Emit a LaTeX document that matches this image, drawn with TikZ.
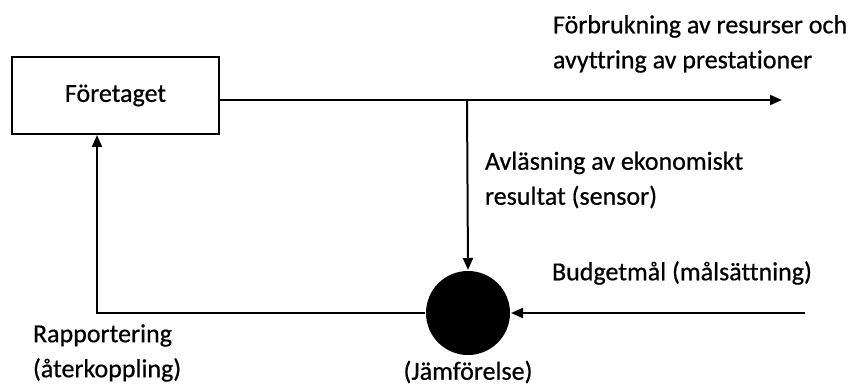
\documentclass[tikz,border=0pt]{standalone}
\usepackage{fontspec}
\setmainfont{Carlito}[Ligatures=NoCommon, FakeBold=0.6]
\usetikzlibrary{arrows.meta}
\begin{document}
\begin{tikzpicture}[x=1pt,y=-1pt,
  line width=2pt,
  lbl/.style={font=\fontsize{26}{35}\selectfont, inner sep=0pt, align=left},
  tip/.style={-{Triangle[length=12pt,width=10pt]}}]
\useasboundingbox (0,0) rectangle (865,387);
% the firm
\node[draw, minimum width=207pt, minimum height=77pt, inner sep=0pt,
      font=\fontsize{26}{30}\selectfont] (firm) at (115.5,95.5) {Företaget};
% comparator
\node[circle, fill=black, minimum size=84pt, inner sep=0pt] (cmp) at (468,313) {};
% helper coordinates
\coordinate (out) at (782,100);
\coordinate (tap) at (467,100);
\coordinate (goal) at (805,313);
\coordinate (corner) at (97,313);
% main flow and measurement
\draw[tip] (firm.east |- out) -- (out);
\draw[tip] (tap) -- (cmp.north);
% budget input
\draw[tip] (goal) -- (cmp.east);
% feedback loop
\draw[tip] (cmp.west) -- (corner) -- (corner |- firm.south);
% labels
\node[lbl, anchor=west] (l1) at (552,44) {Förbrukning av resurser och\\avyttring av prestationer};
\node[lbl, anchor=west] (l2) at (484,180) {Avläsning av ekonomiskt\\resultat (sensor)};
\node[lbl, anchor=west] (l3) at (551,273) {Budgetmål (målsättning)};
\node[lbl, anchor=west] (l4) at (32,353) {Rapportering\\(återkoppling)};
\node[lbl] (l5) at (468,372) {(Jämförelse)};
\end{tikzpicture}
\end{document}
